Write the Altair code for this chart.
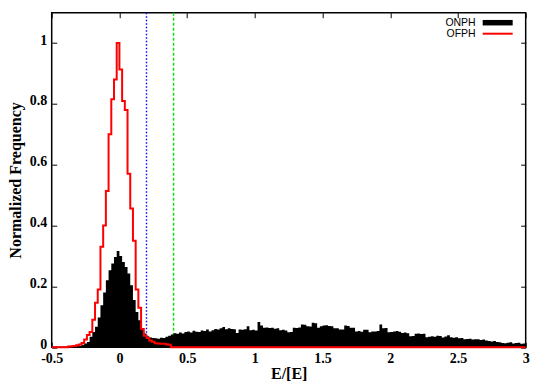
import altair as alt
import numpy as np
import pandas as pd

BIN = 0.02
X_MIN, X_MAX = -0.5, 3.0

# ONPH histogram (black), bin left edges from -0.5 step 0.02
onph_lead = [0.0] * 7  # -0.50 .. -0.38
onph_core_left = [0.001, 0.002, 0.003, 0.005, 0.008, 0.012, 0.017, 0.034, 0.05,
                  0.067, 0.098, 0.138, 0.18, 0.22, 0.253, 0.275, 0.297, 0.316]  # -0.36 .. -0.02
onph_core_right = [0.30, 0.28, 0.264, 0.242, 0.204, 0.155, 0.116, 0.089, 0.061, 0.045]  # 0.00 .. 0.18
onph_gap = [0.036, 0.032, 0.030, 0.029, 0.028, 0.031, 0.030, 0.034, 0.038, 0.042]  # 0.20 .. 0.38
onph_tail1 = [0.046, 0.044, 0.048, 0.045, 0.050, 0.052, 0.048, 0.054, 0.051, 0.050,
              0.055, 0.053, 0.058, 0.052, 0.056, 0.060, 0.058, 0.062, 0.066, 0.059,
              0.062, 0.060, 0.059, 0.047, 0.058, 0.057, 0.059, 0.069, 0.056, 0.057]  # 0.40 .. 0.98
onph_tail2 = [0.055, 0.083, 0.071, 0.064, 0.065, 0.063, 0.064, 0.061, 0.062, 0.056,
              0.057, 0.055, 0.049, 0.050, 0.064, 0.063, 0.065, 0.075, 0.074, 0.069,
              0.068, 0.080, 0.079, 0.064, 0.069, 0.071, 0.072, 0.070, 0.069, 0.062]  # 1.00 .. 1.58
onph_tail3 = [0.062, 0.058, 0.058, 0.071, 0.070, 0.064, 0.064, 0.052, 0.053, 0.051,
              0.057, 0.057, 0.049, 0.052, 0.052, 0.053, 0.075, 0.062, 0.063, 0.049,
              0.050, 0.052, 0.053, 0.051, 0.047, 0.048, 0.046, 0.036, 0.037, 0.044]  # 1.60 .. 2.18
onph_tail4 = [0.045, 0.043, 0.044, 0.033, 0.034, 0.036, 0.034, 0.038, 0.037, 0.032,
              0.035, 0.039, 0.033, 0.031, 0.033, 0.029, 0.030, 0.026, 0.027, 0.028,
              0.025, 0.026, 0.026, 0.024, 0.025, 0.022, 0.020, 0.019, 0.020, 0.017,
              0.016, 0.014, 0.013, 0.015, 0.016, 0.012, 0.014, 0.015, 0.011, 0.012]  # 2.20 .. 2.98

# OFPH histogram (red), nonzero bins from -0.38 to 0.36
ofph_left = [0.002, 0.003, 0.004, 0.006, 0.009, 0.014, 0.025, 0.04, 0.05, 0.09,
             0.146, 0.19, 0.33, 0.40, 0.514, 0.70, 0.815, 0.88, 1.0]  # -0.38 .. -0.02
ofph_right = [0.913, 0.81, 0.78, 0.57, 0.456, 0.35, 0.19, 0.13, 0.06, 0.038,
              0.03, 0.022, 0.018, 0.013, 0.012, 0.011, 0.011, 0.010, 0.008]  # 0.00 .. 0.36

thresholds = [0.2, 0.4]
threshold_colors = ["#0000ff", "#00e600"]
x_ticks = [-0.5, 0, 0.5, 1, 1.5, 2, 2.5, 3]
y_ticks = [0, 0.2, 0.4, 0.6, 0.8, 1]

onph = (onph_lead + onph_core_left + onph_core_right + onph_gap
        + onph_tail1 + onph_tail2 + onph_tail3 + onph_tail4)
ofph = [0.0] * 6 + ofph_left + ofph_right
ofph = ofph + [0.0] * (len(onph) - len(ofph))
assert len(onph) == 175 and len(ofph) == 175

edges = np.round(X_MIN + BIN * np.arange(len(onph) + 1), 2)
df = pd.DataFrame({"x": edges, "onph": onph + [onph[-1]], "ofph": ofph + [ofph[-1]]})

xs = alt.Scale(domain=[X_MIN, X_MAX], nice=False, zero=False)
ys = alt.Scale(domain=[0, 1.1], nice=False, zero=False)

SERIF = "Liberation Serif"
common = dict(grid=False, domain=False, tickColor="black", tickWidth=1, tickSize=5, offset=-5,
              labelFont=SERIF, labelFontWeight="bold", labelFontSize=14, labelColor="black",
              titleFont=SERIF, titleFontWeight="bold", titleFontSize=16, titleColor="black")

x_bottom = alt.Axis(values=x_ticks, labelExpr="'' + datum.value", labelPadding=4,
                    title="E/[E]", titlePadding=0, labelFlush=False, **common)
y_left = alt.Axis(values=y_ticks, labelExpr="'' + datum.value", labelPadding=5, labelOffset=-3,
                  title="Normalized Frequency", titlePadding=6, **common)
x_top = alt.Axis(values=x_ticks, orient="top", labels=False, title=None, grid=False, domain=False,
                 tickColor="black", tickWidth=1, tickSize=5, offset=-5)
y_right = alt.Axis(values=y_ticks, orient="right", labels=False, title=None, grid=False, domain=False,
                   tickColor="black", tickWidth=1, tickSize=5, offset=-5)

rules = alt.Chart(pd.DataFrame({"t": thresholds, "c": threshold_colors})).mark_rule(strokeWidth=1.4).encode(
    x=alt.X("t:Q", scale=xs, axis=None),
    color=alt.Color("c:N", scale=None, legend=None),
    strokeDash=alt.StrokeDash("c:N", scale=alt.Scale(domain=threshold_colors, range=[[1.5, 2], [3, 2]]), legend=None),
)

area = alt.Chart(df).mark_area(interpolate="step-after", color="black").encode(
    x=alt.X("x:Q", scale=xs, axis=x_bottom),
    y=alt.Y("onph:Q", scale=ys, axis=y_left),
)

line = alt.Chart(df).mark_line(interpolate="step-after", color="#ff0000", strokeWidth=2).encode(
    x=alt.X("x:Q", scale=xs, axis=x_top),
    y=alt.Y("ofph:Q", scale=ys, axis=y_right),
)

legend_labels = ["ONPH", "OFPH"]
lab_font = dict(font="Liberation Sans", fontSize=10.5, align="right", baseline="middle", color="black")
t1 = alt.Chart(pd.DataFrame({"l": [legend_labels[0]]})).mark_text(**lab_font).encode(
    text="l:N", x=alt.value(424), y=alt.value(10))
t2 = alt.Chart(pd.DataFrame({"l": [legend_labels[1]]})).mark_text(**lab_font).encode(
    text="l:N", x=alt.value(424), y=alt.value(21))
s1 = alt.Chart(pd.DataFrame({"l": [legend_labels[0]]})).mark_rule(color="black", strokeWidth=5.5).encode(
    x=alt.value(431), x2=alt.value(461), y=alt.value(10))
s2 = alt.Chart(pd.DataFrame({"l": [legend_labels[1]]})).mark_rule(color="#ff0000", strokeWidth=2).encode(
    x=alt.value(431), x2=alt.value(461), y=alt.value(21))

chart = alt.layer(rules, area, line, t1, t2, s1, s2).resolve_axis(
    x="independent", y="independent"
).properties(
    width=474, height=334.5,
    padding={"left": 43.7, "top": 4.7, "right": 11, "bottom": 34},
    autosize=alt.AutoSizeParams(type="none"),
    background="white",
).configure_view(stroke="black", strokeWidth=1.5)

chart.save("out.html", embed_options={"renderer": "svg", "actions": False})
